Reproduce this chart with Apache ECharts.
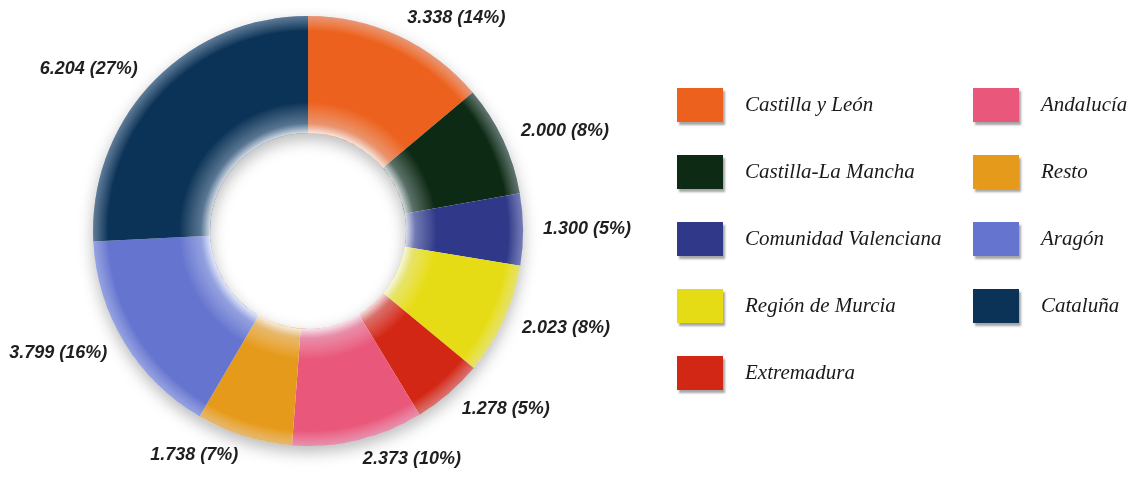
<!DOCTYPE html>
<html>
<head>
<meta charset="utf-8">
<script src="https://cdn.jsdelivr.net/npm/echarts@6/dist/echarts.min.js"></script>
<style>
html,body{margin:0;padding:0;background:#fff;}
#chart{width:1141px;height:481px;}
</style>
</head>
<body>
<div id="chart"></div>
<script>
const regions = ['Castilla y León','Castilla-La Mancha','Comunidad Valenciana','Región de Murcia','Extremadura','Andalucía','Resto','Aragón','Cataluña'];
const values = [3338, 2000, 1300, 2023, 1278, 2373, 1738, 3799, 6204];
const percentLabels = [14, 8, 5, 8, 5, 10, 7, 16, 27];
const colors = ['#EC611E','#0D2A15','#2F3889','#E6DC16','#D32716','#E9577A','#E69A1B','#6575CF','#0B3357'];
const legendCol1 = regions.slice(0, 5);
const legendCol2 = regions.slice(5);

function fmt(v){ return String(v).replace(/\B(?=(\d{3})+(?!\d))/g, '.'); }

const chart = echarts.init(document.getElementById('chart'), null, {renderer:'canvas'});
const center = ['27%', '48%'];
const radius = [98, 215];

const legendBase = {
  orient: 'vertical',
  top: 88,
  padding: 0,
  itemWidth: 46,
  itemHeight: 34,
  itemGap: 33,
  icon: 'rect',
  selectedMode: false,
  itemStyle: {shadowColor:'rgba(0,0,0,0.35)', shadowBlur:2, shadowOffsetX:2, shadowOffsetY:3},
  textStyle: {fontFamily:'Liberation Serif', fontStyle:'italic', fontSize:21, color:'#1a1a1a', padding:[0,0,0,17]}
};

chart.setOption({
  animation: false,
  backgroundColor: '#ffffff',
  legend: [
    Object.assign({}, legendBase, {left: 677, data: legendCol1}),
    Object.assign({}, legendBase, {left: 973, data: legendCol2})
  ],
  series: [
    {
      type: 'pie', center: center, radius: radius, silent: true,
      label: {show:false}, labelLine:{show:false},
      itemStyle: {color:'#ffffff', shadowBlur:16, shadowColor:'rgba(0,0,0,0.28)', shadowOffsetY:6},
      data: [{value:1, name:'_shadow'}]
    },
    {
      type: 'pie', center: center, radius: radius,
      startAngle: 90, clockwise: true, avoidLabelOverlap: false,
      label: {
        show: true, position: 'outside', distanceToLabelLine: 0,
        fontFamily: 'Liberation Sans', fontStyle: 'italic', fontWeight: 'bold', fontSize: 18, color: '#1f1f1f',
        formatter: p => fmt(values[p.dataIndex]) + ' (' + percentLabels[p.dataIndex] + '%)'
      },
      labelLine: {show:false, length: 20, length2: 0},
      data: regions.map((n, i) => ({name:n, value: values[i], itemStyle:{color: colors[i]}}))
    },
    {
      type: 'pie', center: center, radius: radius, silent: true,
      label: {show:false}, labelLine:{show:false},
      itemStyle: {color: {type:'radial', x:0.5, y:0.5, r:0.5, colorStops:[
        {offset:0, color:'rgba(255,255,255,0)'},
        {offset:0.45, color:'rgba(255,255,255,0.9)'},
        {offset:0.5, color:'rgba(230,240,255,0.35)'},
        {offset:0.6, color:'rgba(255,255,255,0)'},
        {offset:0.93, color:'rgba(255,255,255,0)'},
        {offset:1, color:'rgba(220,230,255,0.4)'}
      ]}},
      data: [{value:1, name:'_glow'}]
    }
  ]
});
</script>
</body>
</html>
